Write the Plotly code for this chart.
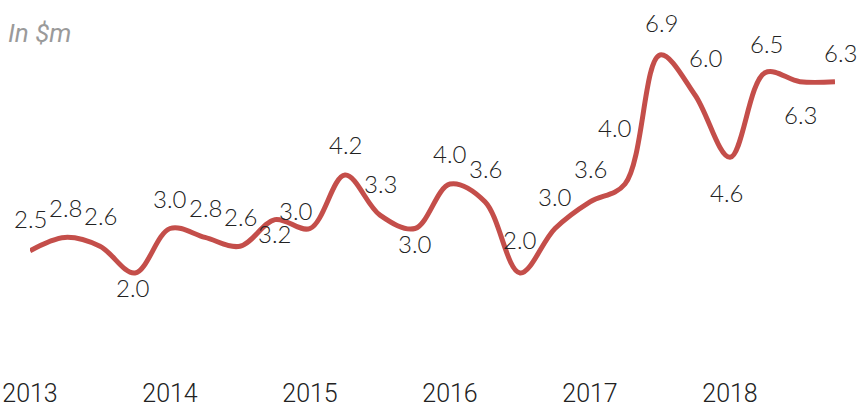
import plotly.graph_objects as go

# Quarterly data 2013-2018
quarters = list(range(24))
values = [2.5, 2.8, 2.6, 2.0, 3.0, 2.8, 2.6, 3.2, 3.0, 4.2, 3.3, 3.0,
          4.0, 3.6, 2.0, 3.0, 3.6, 4.0, 6.9, 6.0, 4.6, 6.5, 6.3, 6.3]
year_ticks = [0, 4, 8, 12, 16, 20]
year_labels = ["2013", "2014", "2015", "2016", "2017", "2018"]

# label offsets (style): pixels, +up
label_dx = [0, 0, 0, -2, 0, 0, 0, -1, -14, 0, 0, 0, 0, 0, 0, 0, 0, -10, 1, 11, -4, 1, 0, 5]
label_dy = [32, 30, 31, -14, 30, 30, 30, -14, 18, 31, 32, -15, 31, 33, 34, 32, 33, 57, 32, 38, -35, 29, -33, 29]

fig = go.Figure()
fig.add_trace(go.Scatter(
    x=quarters, y=values, mode="lines",
    line=dict(color="#C44E4A", width=5, shape="spline", smoothing=1),
    cliponaxis=False, hoverinfo="skip",
))

for q, v, dx, dy in zip(quarters, values, label_dx, label_dy):
    fig.add_annotation(
        x=q, y=v, text=f"{v:.1f}", showarrow=False,
        xshift=dx, yshift=dy, xanchor="center", yanchor="middle",
        font=dict(family="Lato, sans-serif", size=24, color="#222222", weight=300),
    )

fig.add_annotation(
    x=0, y=1, xref="paper", yref="paper", text="<i>In $m</i>", showarrow=False,
    xanchor="left", yanchor="middle", xshift=-24, yshift=-27,
    font=dict(family="Roboto, sans-serif", size=26, color="#9a9a9a"),
)

fig.update_layout(
    width=859, height=406,
    margin=dict(l=30, r=24, t=6, b=44, autoexpand=False),
    paper_bgcolor="white", plot_bgcolor="white",
    showlegend=False,
    xaxis=dict(
        range=[0, 23], tickmode="array", tickvals=year_ticks, ticktext=year_labels,
        showgrid=False, zeroline=False, showline=False, ticks="",
        automargin=False, ticklabelstandoff=14,
        tickfont=dict(family="Roboto, sans-serif", size=25, color="#222222", weight=300),
    ),
    yaxis=dict(range=[0, 8], visible=False, automargin=False),
)

fig.write_html("out.html")
